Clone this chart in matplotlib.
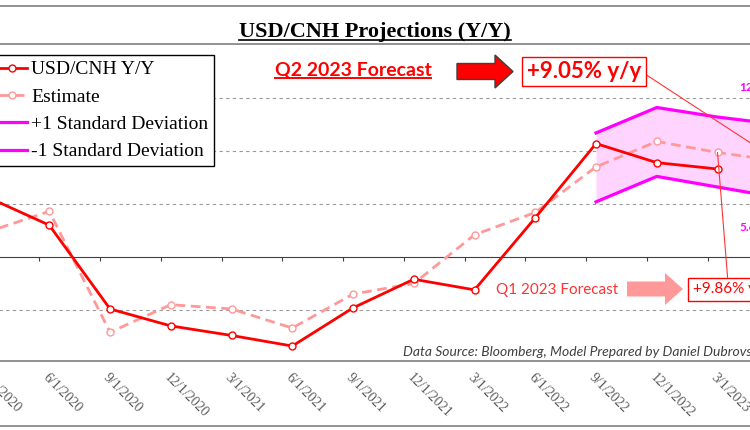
import numpy as np
import matplotlib
matplotlib.use('Agg')
import matplotlib.pyplot as plt
from matplotlib.patches import Polygon
from matplotlib.lines import Line2D

# quarterly y/y change of USD/CNH (%)
dates = ['3/1/2020', '6/1/2020', '9/1/2020', '12/1/2020', '3/1/2021', '6/1/2021',
         '9/1/2021', '12/1/2021', '3/1/2022', '6/1/2022', '9/1/2022', '12/1/2022',
         '3/1/2023', '6/1/2023']
actual = [5.6, 3.0, -4.9, -6.5, -7.4, -8.4, -4.8, -2.1, -3.1, 3.7, 10.7, 8.9, 8.3, np.nan]
estimate = [2.4, 4.3, -7.1, -4.5, -4.9, -6.7, -3.5, -2.5, 2.1, 4.2, 8.5, 10.9, 9.86, 9.05]
upper = [np.nan] * 10 + [11.7, 14.1, 13.2, 12.5]
lower = [np.nan] * 10 + [5.2, 7.6, 6.6, 5.6]

SERIF = 'Liberation Serif'
SANS = 'Lato'
W, H = 750, 430


def fx(px):
    return px / W


def fy(py):
    return 1 - py / H


fig = plt.figure(figsize=(W / 100, H / 100), dpi=100)

# the chart is cropped on both sides, so the axes run past the figure edges
ax = fig.add_axes([fx(-102.6), fy(361), 972 / W, 317 / H])
x = np.arange(len(dates))
ax.set_xlim(-1.5, 14.5)
ax.set_ylim(-9.81, 20.09)

band = ~np.isnan(upper)
ax.fill_between(x, lower, upper, where=band, color='#FFD4FF', lw=0, zorder=1)
h_up, = ax.plot(x, upper, color='#FF00FF', lw=2.3, zorder=2)
h_lo, = ax.plot(x, lower, color='#FF00FF', lw=2.3, zorder=2)
h_est, = ax.plot(x, estimate, color='#FF9999', lw=2, ls=(0, (3.5, 2)), marker='o', ms=5,
                 mfc='white', mec='#FF9999', mew=1, zorder=3)
h_act, = ax.plot(x, actual, color='#FF0000', lw=2, marker='o', ms=5,
                 mfc='white', mec='#FF0000', mew=1, zorder=4)

for side in ['left', 'right']:
    ax.spines[side].set_visible(False)
ax.spines['top'].set_color('#7f7f7f')
ax.spines['top'].set_linewidth(1.2)
ax.spines['bottom'].set_position(('data', 0))
ax.spines['bottom'].set_color('#404040')

ax.set_xticks(x - 0.165)
ax.tick_params(axis='x', direction='out', length=3, color='#404040', labelbottom=False)
ax.set_yticks([-5, 5, 10, 15])
ax.tick_params(axis='y', length=0, labelleft=False)
ax.grid(axis='y', color='#9a9a9a', ls=(0, (3, 3)), lw=0.8)
ax.set_axisbelow(True)

sec = ax.secondary_xaxis('bottom')
sec.set_xticks(x, labels=dates, rotation=-45, ha='left', va='top',
               rotation_mode='anchor', family=SERIF, fontsize=10, color='#595959')
sec.tick_params(length=0, pad=7)
sec.spines['bottom'].set_color('#7f7f7f')
sec.spines['bottom'].set_linewidth(1.2)

leg = ax.legend([h_act, h_est, h_up, h_lo],
                ['USD/CNH Y/Y', 'Estimate', '+1 Standard Deviation', '-1 Standard Deviation'],
                loc='upper right', bbox_to_anchor=(fx(214), fy(55)),
                bbox_transform=fig.transFigure, prop={'family': SERIF, 'size': 14},
                fancybox=False, edgecolor='black', framealpha=1, borderaxespad=0,
                handlelength=1.55, handletextpad=0.2, labelspacing=0.5,
                borderpad=0.3, numpoints=1)
leg.get_frame().set_linewidth(1)

# frame lines of the chart
for py in [6, 426]:
    fig.add_artist(Line2D([0, 1], [fy(py), fy(py)], color='#7f7f7f', lw=1.2))

title = fig.text(fx(375), fy(36.5), 'USD/CNH Projections (Y/Y)', ha='center',
                 va='baseline', fontsize=16, fontweight='bold', family=SERIF)
q2 = fig.text(fx(353), fy(75), 'Q2 2023 Forecast', ha='center', va='baseline',
              fontsize=14, fontweight='bold', color='#FF0000', family=SANS)

ax.annotate('+9.05% y/y', xy=(13, estimate[13]), xytext=(fx(584), fy(71.5)),
            textcoords='figure fraction', ha='center', va='center', fontsize=16,
            fontweight='bold', color='#FF0000', family=SANS,
            bbox=dict(boxstyle='square,pad=0.2', fc='white', ec='#FF0000', lw=1),
            arrowprops=dict(arrowstyle='-', color='#FF3333', lw=0.8, relpos=(1, 0.5),
                            shrinkA=0, shrinkB=0), zorder=6)

fig.text(fx(557), fy(290), 'Q1 2023 Forecast', ha='center', va='center',
         fontsize=11, color='#FF3333', family=SANS)
ax.annotate('+9.86% y/y', xy=(12, estimate[12]), xytext=(fx(693), fy(289.5)),
            textcoords='figure fraction', ha='left', va='center', fontsize=11,
            color='#FF0000', family=SANS,
            bbox=dict(boxstyle='square,pad=0.3', fc='white', ec='#FF0000', lw=1),
            arrowprops=dict(arrowstyle='-', color='#FF3333', lw=0.8, relpos=(0.45, 1),
                            shrinkA=0, shrinkB=0), zorder=6)

ax.annotate('12.5%', xy=(13, upper[13]), xytext=(-39, 37), textcoords='offset pixels',
            ha='left', va='center', fontsize=8.5, fontweight='bold', color='#FF00FF',
            family=SANS)
ax.annotate('5.6%', xy=(13, lower[13]), xytext=(-39, -30), textcoords='offset pixels',
            ha='left', va='center', fontsize=8.5, fontweight='bold', color='#FF00FF',
            family=SANS)

fig.text(fx(403), fy(352), 'Data Source: Bloomberg, Model Prepared by Daniel Dubrovsky',
         ha='left', va='center', fontsize=10, style='italic', color='#404040', family=SANS)


def arrow(x0, xh, x1, yc, bw, hw, **kw):
    pts = [(x0, yc - bw), (xh, yc - bw), (xh, yc - hw), (x1, yc), (xh, yc + hw),
           (xh, yc + bw), (x0, yc + bw)]
    fig.add_artist(Polygon([(fx(a), fy(b)) for a, b in pts], closed=True,
                           transform=fig.transFigure, **kw))


arrow(457, 495, 513, 71.5, 8, 16.5, fc='#FF0000', ec='#404040', lw=1)
arrow(627, 665, 683, 289, 7.5, 16, fc='#FF9999', ec='none')


def underline(t, gap_px, lw, color):
    fig.canvas.draw()
    bb = t.get_window_extent()
    base = t.get_position()[1]
    y = base - gap_px / H
    fig.add_artist(Line2D([bb.x0 / W, bb.x1 / W], [y, y], color=color, lw=lw))


underline(title, 3, 1.2, 'black')
underline(q2, 3, 1.4, '#FF0000')

fig.savefig('out.png', dpi=100)
